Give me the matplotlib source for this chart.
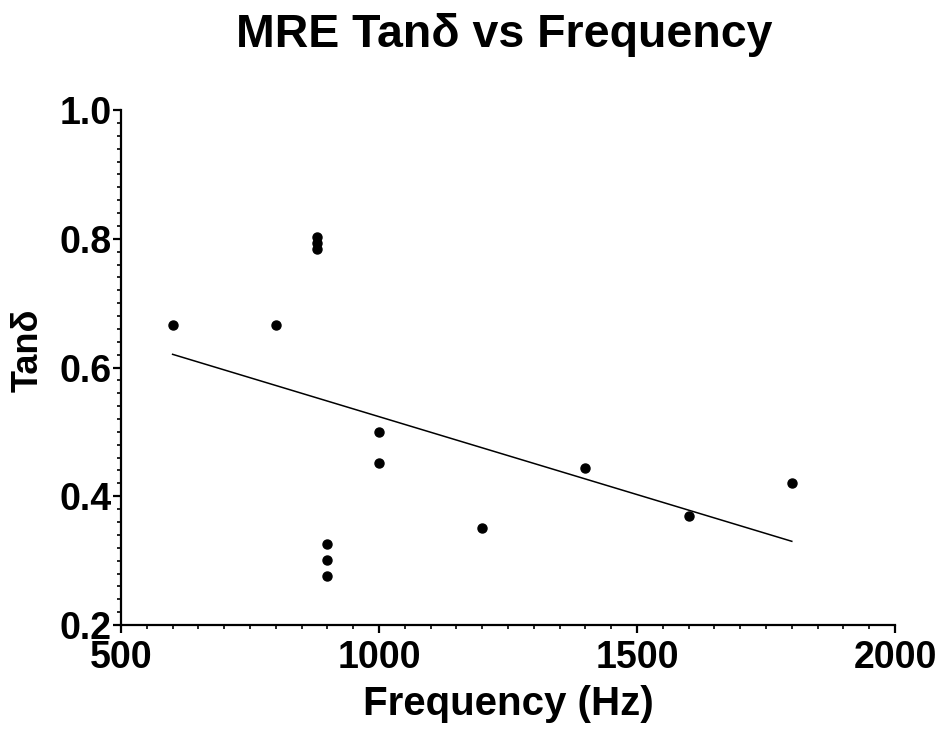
import matplotlib
matplotlib.use("Agg")
import matplotlib.pyplot as plt
import numpy as np
from matplotlib.ticker import MultipleLocator

# Data
frequency = [600, 800, 880, 880, 880, 900, 900, 900, 1000, 1000, 1200, 1400, 1600, 1800]
tan_delta = [0.666, 0.666, 0.803, 0.793, 0.784, 0.326, 0.301, 0.276, 0.500, 0.452,
             0.350, 0.444, 0.370, 0.421]

x_ticks = [500, 1000, 1500, 2000]
y_ticks = [0.2, 0.4, 0.6, 0.8, 1.0]

plt.rcParams["font.family"] = ["Liberation Sans", "DejaVu Sans"]
plt.rcParams["font.weight"] = "bold"

fig = plt.figure(figsize=(9.39, 7.31), dpi=100)
ax = fig.add_axes([121 / 939, 1 - 625 / 731, 774 / 939, 515 / 731])

x = np.array(frequency, dtype=float)
y = np.array(tan_delta)

# Scatter points
ax.plot(x, y, "o", color="black", markersize=6.5, clip_on=False)

# Linear regression line over the data range
slope, intercept = np.polyfit(x, y, 1)
xs = np.array([x.min(), x.max()])
ax.plot(xs, slope * xs + intercept, color="black", linewidth=1.1)

# Axes
ax.set_xlim(500, 2000)
ax.set_ylim(0.2, 1.0)
ax.set_xticks(x_ticks)
ax.set_yticks(y_ticks)
ax.set_yticklabels([f"{v:.1f}" for v in y_ticks])
ax.xaxis.set_minor_locator(MultipleLocator(50))
ax.yaxis.set_minor_locator(MultipleLocator(0.02))

for side in ["top", "right"]:
    ax.spines[side].set_visible(False)
for side in ["left", "bottom"]:
    ax.spines[side].set_linewidth(1.6)

ax.tick_params(which="major", length=6, width=1.6, labelsize=27)
ax.tick_params(axis="y", which="major", pad=1)
ax.tick_params(axis="x", which="major", pad=4.5)
ax.tick_params(which="minor", length=3, width=1.2)
for lbl in ax.get_xticklabels() + ax.get_yticklabels():
    lbl.set_fontweight("bold")

# Labels
ax.set_xlabel("Frequency (Hz)", fontsize=29, fontweight="bold", labelpad=7)
ax.set_ylabel("Tanδ", fontsize=26, fontweight="bold")
ax.yaxis.set_label_coords(-0.098, 0.534)

fig.text(504 / 939, 1 - 47 / 731, "MRE Tanδ vs Frequency",
         ha="center", va="baseline", fontsize=33.5, fontweight="bold")

fig.savefig("out.png", dpi=100)
